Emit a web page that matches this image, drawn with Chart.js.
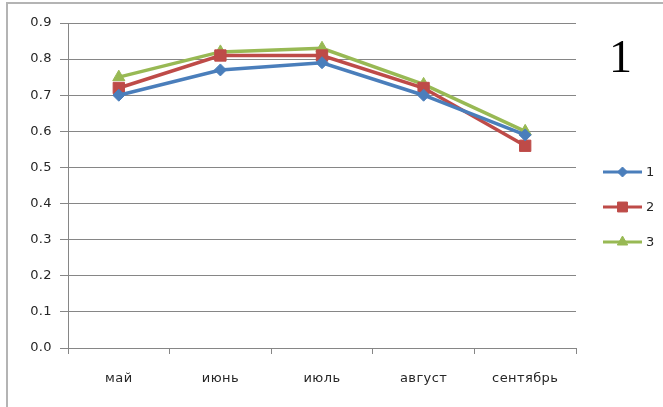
<!DOCTYPE html>
<html>
<head>
<meta charset="utf-8">
<script src="https://cdn.jsdelivr.net/npm/chart.js@4/dist/chart.umd.min.js"></script>
<style>
  html, body { margin: 0; padding: 0; background: #fff; }
  #wrap { position: relative; width: 663px; height: 407px; overflow: hidden; background: #fff; }
  #frame { position: absolute; left: 6px; top: 2px; width: 700px; height: 500px;
           border-left: 2px solid #b4b4b4; border-top: 2px solid #b4b4b4; box-sizing: border-box; }
  #chart { position: absolute; left: 0; top: 0; }
  #num { position: absolute; left: 609px; top: 34px; font-family: "Liberation Serif", "DejaVu Serif", serif;
         font-size: 46px; line-height: 1; color: #000; }
</style>
</head>
<body>
<div id="wrap">
  <div id="frame"></div>
  <canvas id="chart" width="663" height="407"></canvas>
  <div id="num">1</div>
</div>
<script>
// Months on the category axis
const months = ['май', 'июнь', 'июль', 'август', 'сентябрь'];
// Series values
const series1 = [0.70, 0.77, 0.79, 0.70, 0.59];
const series2 = [0.72, 0.81, 0.81, 0.72, 0.56];
const series3 = [0.75, 0.82, 0.83, 0.73, 0.60];
const seriesNames = ['1', '2', '3'];
// Value axis ticks
const yTicks = [0, 0.1, 0.2, 0.3, 0.4, 0.5, 0.6, 0.7, 0.8, 0.9];

const colors = ['#4A7EBB', '#BE4B48', '#98B954'];
const shapes = ['rectRot', 'rect', 'triangle'];
const radii = [6, 8, 7];
const values = [series1, series2, series3];
const labelFont = '"DejaVu Sans", "Liberation Sans", sans-serif';
const textColor = '#262626';

const datasets = values.map((v, i) => ({
  label: seriesNames[i],
  data: v,
  borderColor: colors[i],
  backgroundColor: colors[i],
  borderWidth: 3.5,
  pointStyle: shapes[i],
  pointRadius: radii[i],
  pointBorderWidth: 1,
  pointBackgroundColor: colors[i],
  pointBorderColor: colors[i],
  tension: 0
}));

// Slightly spaced lettering for all canvas text
const spacing = {
  id: 'spacing',
  beforeLayout(chart) { chart.ctx.letterSpacing = '0.4px'; },
  beforeDraw(chart) { chart.ctx.letterSpacing = '0.4px'; }
};

// Legend on the right: short line with the series marker and its name
const sideLegend = {
  id: 'sideLegend',
  afterDraw(chart) {
    const ctx = chart.ctx;
    const x0 = 603, x1 = 642, ys = [172, 207, 242];
    chart.data.datasets.forEach((ds, i) => {
      const y = ys[i];
      ctx.save();
      ctx.strokeStyle = ds.borderColor;
      ctx.lineWidth = 3;
      ctx.beginPath();
      ctx.moveTo(x0, y);
      ctx.lineTo(x1, y);
      ctx.stroke();
      ctx.fillStyle = ds.backgroundColor;
      ctx.strokeStyle = ds.borderColor;
      ctx.lineWidth = 1;
      Chart.helpers.drawPoint(ctx, { pointStyle: ds.pointStyle, radius: ds.pointRadius - 1, borderWidth: 1 }, (x0 + x1) / 2, y);
      ctx.fillStyle = textColor;
      ctx.font = '13px ' + labelFont;
      ctx.textBaseline = 'middle';
      ctx.fillText(ds.label, x1 + 4, y + 1);
      ctx.restore();
    });
  }
};

new Chart(document.getElementById('chart'), {
  type: 'line',
  data: { labels: months, datasets },
  options: {
    responsive: false,
    animation: false,
    layout: { padding: { left: 0, top: 23, right: 87, bottom: 0 } },
    plugins: { legend: { display: false }, tooltip: { enabled: false } },
    scales: {
      x: {
        offset: true,
        grid: { offset: true, drawOnChartArea: false, drawTicks: true, tickLength: 6, color: '#868686', lineWidth: 1 },
        border: { display: true, color: '#868686', width: 1 },
        ticks: { padding: 17, color: textColor, font: { family: labelFont, size: 13 } },
        afterFit(scale) { scale.height = 59; }
      },
      y: {
        min: 0, max: 0.9,
        afterBuildTicks(scale) { scale.ticks = yTicks.map(v => ({ value: v })); },
        grid: { drawTicks: true, tickLength: 8, color: '#868686', lineWidth: 1 },
        border: { display: true, color: '#868686', width: 1 },
        ticks: {
          padding: 8, color: textColor,
          font: { family: labelFont, size: 13 },
          callback: v => Number(v).toFixed(1)
        },
        afterFit(scale) { scale.width = 68; }
      }
    }
  },
  plugins: [spacing, sideLegend]
});
</script>
</body>
</html>
